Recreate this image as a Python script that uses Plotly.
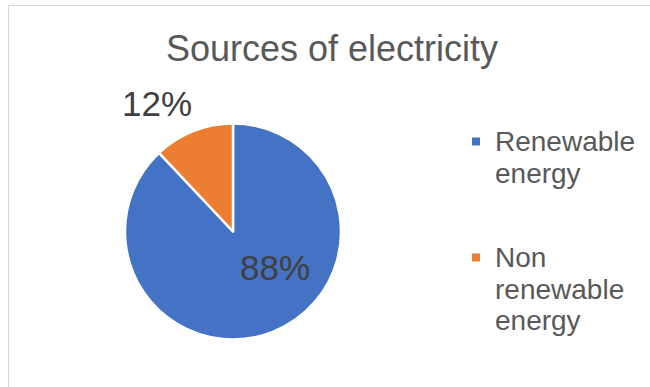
import plotly.graph_objects as go

# ---- data ----
title_text = "Sources of electricity"
categories = ["Renewable energy", "Non renewable energy"]
legend_lines = [["Renewable", "energy"], ["Non", "renewable", "energy"]]
values = [88, 12]
colors = ["#4472C4", "#ED7D31"]

W, H = 650, 387
def px(x):
    return x / W
def py(y):
    return 1 - y / H

total = sum(values)
pct_text = [f"{round(v / total * 100)}%" for v in values]

fig = go.Figure()
fig.add_trace(go.Pie(
    labels=categories,
    values=values,
    marker=dict(colors=colors, line=dict(color="white", width=2.5)),
    sort=False,
    direction="clockwise",
    rotation=0,
    textinfo="none",
    hoverinfo="label+percent",
    showlegend=False,
    domain=dict(x=[px(125), px(341)], y=[py(340), py(123)]),
))

annotations = []
# data labels
label_pos = [(275, 267), (157, 103)]
for t, (x, y) in zip(pct_text, label_pos):
    annotations.append(dict(
        text=t, x=px(x), y=py(y), xref="paper", yref="paper",
        xanchor="center", yanchor="middle", showarrow=False,
        font=dict(family="Liberation Sans, Arial", size=35, color="#404040"),
    ))

# legend (text lines + square markers)
legend_first_center = [141.5, 257.5]
line_step = 31.5
shapes = []
for lines, c, y0 in zip(legend_lines, colors, legend_first_center):
    for i, ln in enumerate(lines):
        annotations.append(dict(
            text=ln, x=px(493), y=py(y0 + i * line_step), xref="paper", yref="paper",
            xanchor="left", yanchor="middle", showarrow=False,
            font=dict(family="Liberation Sans, Arial", size=28, color="#595959"),
        ))
    shapes.append(dict(
        type="rect", xref="paper", yref="paper",
        x0=px(472), x1=px(480), y0=py(y0 + 4), y1=py(y0 - 4),
        fillcolor=c, line=dict(width=0),
    ))

# chart area border (left and top visible)
shapes.append(dict(type="line", xref="paper", yref="paper",
                   x0=px(8.5), x1=px(8.5), y0=0, y1=py(5),
                   line=dict(color="#D9D9D9", width=1.2)))
shapes.append(dict(type="line", xref="paper", yref="paper",
                   x0=px(8.5), x1=1, y0=py(5.5), y1=py(5.5),
                   line=dict(color="#D9D9D9", width=1.2)))

fig.update_layout(
    width=W, height=H,
    margin=dict(l=0, r=0, t=0, b=0),
    paper_bgcolor="white",
    plot_bgcolor="white",
    title=dict(
        text=title_text, x=px(332), y=py(48),
        xanchor="center", yanchor="middle",
        font=dict(family="Liberation Sans, Arial", size=36, color="#595959"),
    ),
    annotations=annotations,
    shapes=shapes,
    showlegend=False,
)

fig.write_html("out.html")
